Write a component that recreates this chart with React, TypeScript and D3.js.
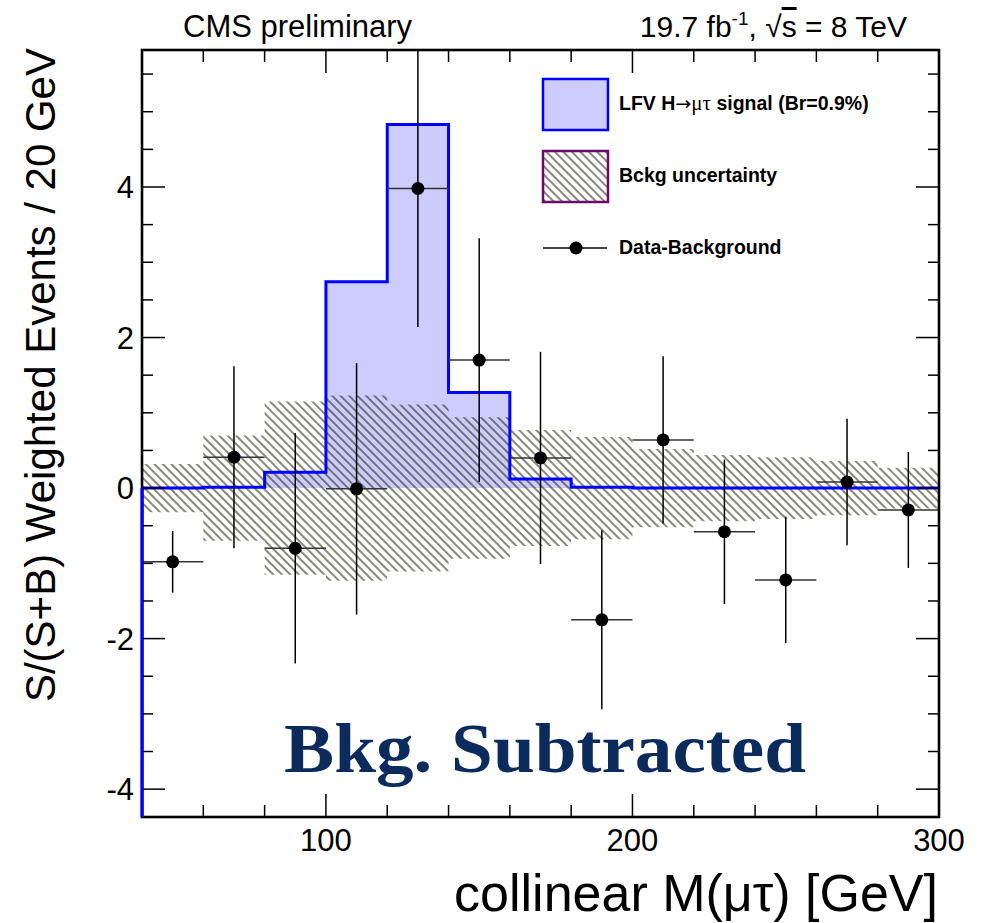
import React from "react";
import * as d3 from "d3";

const binLow = [40, 60, 80, 100, 120, 140, 160, 180, 200, 220, 240, 260, 280];
const binWidth = 20;
const signal = [0.0, 0.01, 0.21, 2.74, 4.83, 1.27, 0.12, 0.01, 0.0, 0.0, 0.0, 0.0, 0.0];
const bkgUnc = [0.32, 0.7, 1.15, 1.23, 1.11, 0.94, 0.77, 0.68, 0.52, 0.44, 0.41, 0.36, 0.27];
const dataVal = [-0.98, 0.41, -0.8, -0.01, 3.98, 1.7, 0.4, -1.75, 0.64, -0.58, -1.22, 0.08, -0.29];
const dataErr = [0.41, 1.21, 1.53, 1.67, 1.84, 1.62, 1.41, 1.19, 1.11, 0.96, 0.84, 0.84, 0.77];
const xMajor = [100, 200, 300];
const yMajor = [-4, -2, 0, 2, 4];

const W = 986, H = 923;
const L = 142, R = 939, T = 50, B = 817;
const FONT = "'Liberation Sans', Arial, Helvetica, sans-serif";

export default function App() {
  const x = d3.scaleLinear().domain([40, 300]).range([L, R]);
  const y = d3.scaleLinear().domain([-4.37, 5.82]).range([B, T]);

  const xMinor = d3.range(40, 301, 20).filter((v) => !xMajor.includes(v));
  const yMinor = d3.range(-4, 5.81, 0.5).filter((v) => !yMajor.includes(v));

  const stepPts = binLow.map((lo, i) => ({ x: lo, s: signal[i], u: bkgUnc[i] }));
  const last = stepPts[stepPts.length - 1];
  const pts = [...stepPts, { x: last.x + binWidth, s: last.s, u: last.u }];

  const sigArea = d3
    .area<any>()
    .x((d) => x(d.x))
    .y0(y(0))
    .y1((d) => y(d.s))
    .curve(d3.curveStepAfter)(pts);

  const sigLine =
    `M${x(40)},${B}L${x(40)},${y(signal[0])}` +
    (d3.line<any>().x((d) => x(d.x)).y((d) => y(d.s)).curve(d3.curveStepAfter)(pts) || "").replace(/^M/, "L");

  const bandArea = d3
    .area<any>()
    .x((d) => x(d.x))
    .y0((d) => y(-d.u))
    .y1((d) => y(d.u))
    .curve(d3.curveStepAfter)(pts);

  return (
    <svg width={W} height={H} style={{ position: "absolute", left: 0, top: 0, background: "#fff" }} fontFamily={FONT}>
      <defs>
        <clipPath id="frame">
          <rect x={L} y={T} width={R - L} height={B - T} />
        </clipPath>
        <pattern id="hatch" patternUnits="userSpaceOnUse" width={6} height={10} patternTransform="rotate(-45)">
          <line x1={3} y1={-1} x2={3} y2={11} stroke="#1e1e00" strokeWidth={1.05} />
        </pattern>
      </defs>
      <rect x={0} y={0} width={W} height={H} fill="#fff" />

      <g clipPath="url(#frame)">
        <path d={sigArea || ""} fill="#ccccff" />
        <path d={bandArea || ""} fill="url(#hatch)" />
        <path d={sigLine} fill="none" stroke="#0000ff" strokeWidth={3} />
        {binLow.map((lo, i) => {
          const cx = x(lo + binWidth / 2);
          return (
            <g key={i}>
              <line x1={x(lo)} x2={x(lo + binWidth)} y1={y(dataVal[i])} y2={y(dataVal[i])} stroke="#333" strokeWidth={1.5} />
              <line x1={cx} x2={cx} y1={y(dataVal[i] - dataErr[i])} y2={y(dataVal[i] + dataErr[i])} stroke="#000" strokeWidth={1.5} />
              <circle cx={cx} cy={y(dataVal[i])} r={6.5} fill="#000" />
            </g>
          );
        })}
      </g>

      {/* ticks */}
      <g stroke="#000" strokeWidth={1.5}>
        {xMajor.map((v) => (
          <g key={"xM" + v}>
            <line x1={x(v)} x2={x(v)} y1={B} y2={B - 23} />
            <line x1={x(v)} x2={x(v)} y1={T} y2={T + 23} />
          </g>
        ))}
        {xMinor.map((v) => (
          <g key={"xm" + v}>
            <line x1={x(v)} x2={x(v)} y1={B} y2={B - 12} />
            <line x1={x(v)} x2={x(v)} y1={T} y2={T + 12} />
          </g>
        ))}
        {yMajor.map((v) => (
          <g key={"yM" + v}>
            <line x1={L} x2={L + 23} y1={y(v)} y2={y(v)} />
            <line x1={R} x2={R - 23} y1={y(v)} y2={y(v)} />
          </g>
        ))}
        {yMinor.map((v) => (
          <g key={"ym" + v}>
            <line x1={L} x2={L + 11} y1={y(v)} y2={y(v)} />
            <line x1={R} x2={R - 11} y1={y(v)} y2={y(v)} />
          </g>
        ))}
      </g>

      {/* frame */}
      <rect x={L} y={T} width={R - L} height={B - T} fill="none" stroke="#000" strokeWidth={2.6} />
      <line x1={x(40)} x2={x(40)} y1={y(0)} y2={B} stroke="#0000ff" strokeWidth={3} />

      {/* tick labels */}
      {xMajor.map((v) => (
        <text key={"xl" + v} x={x(v)} y={851} fontSize={31} textAnchor="middle" fill="#000">
          {v}
        </text>
      ))}
      {yMajor.map((v) => (
        <text key={"yl" + v} x={134} y={y(v) + 11} fontSize={31} textAnchor="end" fill="#000">
          {v}
        </text>
      ))}

      {/* axis titles */}
      <text x={938} y={911} fontSize={52} textAnchor="end" fill="#000">
        collinear M(μτ) [GeV]
      </text>
      <text transform="translate(55,48) rotate(-90)" fontSize={42} textAnchor="end" fill="#000">
        S/(S+B) Weighted Events / 20 GeV
      </text>

      {/* header */}
      <text x={183} y={37} fontSize={31} fill="#000">CMS preliminary</text>
      <text x={907} y={37} fontSize={30} textAnchor="end" fill="#000">
        19.7 fb<tspan fontSize={19} dy={-12}>-1</tspan>
        <tspan dy={12}>, √</tspan>
        <tspan style={{ textDecoration: "overline" }}>s</tspan>
        <tspan> = 8 TeV</tspan>
      </text>

      {/* legend */}
      <rect x={543} y={79} width={65} height={51} fill="#ccccff" stroke="#0000ff" strokeWidth={2.5} />
      <text x={619} y={110} fontSize={19.5} fontWeight="bold" fill="#000">
        LFV H<tspan fontFamily="'DejaVu Sans', sans-serif" fontWeight="normal" fontSize={19}>→</tspan>
        <tspan fontFamily="'Liberation Serif', serif" fontWeight="normal" fontSize={21}>μτ</tspan> signal (Br=0.9%)
      </text>
      <rect x={543} y={151} width={65} height={51} fill="url(#hatch)" stroke="#6a0a6a" strokeWidth={2.5} />
      <text x={619} y={182} fontSize={19.5} fontWeight="bold" fill="#000">
        Bckg uncertainty
      </text>
      <line x1={543} x2={607} y1={248} y2={248} stroke="#000" strokeWidth={1.5} />
      <circle cx={576} cy={248} r={6.5} fill="#000" />
      <text x={619} y={254} fontSize={19.5} fontWeight="bold" fill="#000">
        Data-Background
      </text>

      <text
        x={284}
        y={772}
        fontSize={70}
        fontWeight="bold"
        fill="#0a2b5c"
        fontFamily="'Liberation Serif', 'Times New Roman', serif"
        textLength={522}
        lengthAdjust="spacingAndGlyphs"
      >
        Bkg. Subtracted
      </text>
    </svg>
  );
}
